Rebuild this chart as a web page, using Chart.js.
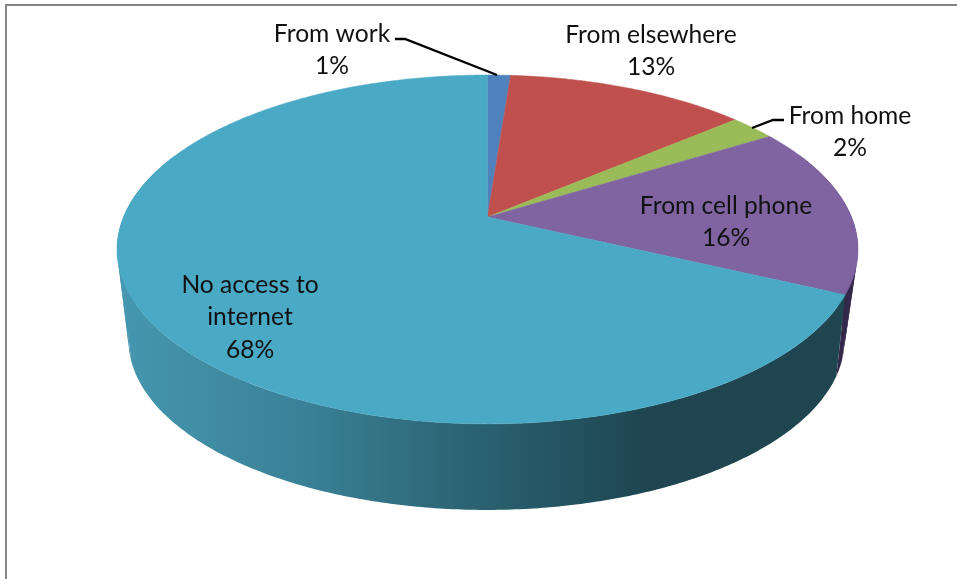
<!DOCTYPE html>
<html>
<head>
<meta charset="utf-8">
<title>Internet access</title>
<script src="https://cdn.jsdelivr.net/npm/chart.js@4/dist/chart.umd.min.js"></script>
<style>
    html, body { margin: 0; padding: 0; background: #ffffff; }
    canvas { display: block; }
</style>
</head>
<body>
<canvas id="accessChart" width="957" height="579"></canvas>
<script>
// Chart data (labels show the rounded percent)
const categories = ['From work', 'From elsewhere', 'From home', 'From cell phone', 'No access to internet'];
const shares = [1.2, 12.6, 2.4, 15.8, 68];
const labelLines = [['From work'], ['From elsewhere'], ['From home'], ['From cell phone'], ['No access to', 'internet']];

// Slice colours, top face and side wall
const topColors = ['#4F81BD', '#C0504D', '#9BBB59', '#8064A2', '#4AA9C4'];
const wallColors = ['#2F4D71', '#73302E', '#5D7035', '#33284A', null];

// Where each label block starts (centre x, middle of first line)
const labelSpots = [[332, 34], [651, 35], [850, 116], [726, 206], [250, 285]];

// Perspective of the disc: top rim and bottom rim
const topRim = { cx: 487.5, y0: 217, a: 364, b: 168.4, k: 0.186 };
const bottomRim = { cx: 486.5, y0: 300, a: 348, b: 160.6, k: 0.235 };

function rimPoint(rim, angle) {
    const u = Math.cos(angle);
    const v = Math.sin(angle);
    const w = 1 - rim.k * v;
    return [rim.cx + rim.a * u / w, rim.y0 + rim.b * v / w];
}

// One piece of side wall between two angles, top rim out and bottom rim back
function wallBand(ctx, a1, a2) {
    const steps = Math.max(2, Math.ceil((a2 - a1) / 0.01));
    ctx.beginPath();
    for (let s = 0; s <= steps; s++) {
        const p = rimPoint(topRim, a1 + (a2 - a1) * s / steps);
        if (s === 0) ctx.moveTo(p[0], p[1]);
        else ctx.lineTo(p[0], p[1]);
    }
    for (let s = steps; s >= 0; s--) {
        const p = rimPoint(bottomRim, a1 + (a2 - a1) * s / steps);
        ctx.lineTo(p[0], p[1]);
    }
    ctx.closePath();
    ctx.fill();
}

// The part of the wall that folds round the silhouette needs small pieces
function foldedWall(ctx, a1, a2) {
    for (let a = a1; a < a2; a += 0.04) {
        wallBand(ctx, a, Math.min(a + 0.045, a2));
    }
}

const disc3d = {
    id: 'disc3d',
    beforeDraw(chart) {
        const ctx = chart.ctx;
        ctx.save();
        ctx.fillStyle = '#868686';
        ctx.fillRect(5, 4, 952, 2);
        ctx.fillRect(5, 4, 2, 575);
        ctx.restore();
    },
    // replaces the flat arcs: the angles still come from the pie controller
    beforeDatasetDraw(chart, args) {
        const ctx = chart.ctx;
        const arcs = args.meta.data;
        const frontStart = 0.35;
        const frontEnd = Math.PI - 0.35;

        const wallGradient = ctx.createLinearGradient(117, 0, 858, 0);
        wallGradient.addColorStop(0, '#4597AF');
        wallGradient.addColorStop(0.25, '#3A8197');
        wallGradient.addColorStop(0.5, '#29606F');
        wallGradient.addColorStop(0.72, '#1E4550');
        wallGradient.addColorStop(1, '#1E4550');

        // side walls first, the top face hides what is behind
        arcs.forEach((arc, i) => {
            ctx.fillStyle = wallColors[i] || wallGradient;
            const from = Math.max(arc.startAngle, -0.4);
            const to = Math.min(arc.endAngle, Math.PI + 0.4);
            if (from < frontStart) foldedWall(ctx, from, Math.min(to, frontStart));
            if (to > frontEnd) foldedWall(ctx, Math.max(from, frontEnd), to);
            const midFrom = Math.max(from, frontStart);
            const midTo = Math.min(to, frontEnd);
            if (midFrom < midTo) wallBand(ctx, midFrom, midTo);
        });

        // top face
        arcs.forEach((arc, i) => {
            ctx.fillStyle = topColors[i];
            ctx.strokeStyle = topColors[i];
            ctx.lineWidth = 0.5;
            ctx.beginPath();
            ctx.moveTo(topRim.cx, topRim.y0);
            const steps = Math.ceil((arc.endAngle - arc.startAngle) / 0.01);
            for (let s = 0; s <= steps; s++) {
                const p = rimPoint(topRim, arc.startAngle + (arc.endAngle - arc.startAngle) * s / steps);
                ctx.lineTo(p[0], p[1]);
            }
            ctx.closePath();
            ctx.fill();
            ctx.stroke();
        });
        return false;
    },
    afterDatasetsDraw(chart) {
        const ctx = chart.ctx;
        ctx.save();

        // leader lines
        ctx.strokeStyle = '#000000';
        ctx.lineWidth = 2.4;
        ctx.beginPath();
        ctx.moveTo(395, 39);
        ctx.lineTo(405, 39);
        ctx.lineTo(497, 75);
        ctx.moveTo(752, 128);
        ctx.lineTo(773, 120);
        ctx.lineTo(784, 120);
        ctx.stroke();

        // data labels
        ctx.font = '24.6px Lato';
        ctx.fillStyle = '#111111';
        ctx.textAlign = 'center';
        ctx.textBaseline = 'middle';
        labelLines.forEach((lines, i) => {
            const x = labelSpots[i][0];
            let y = labelSpots[i][1];
            lines.concat(Math.round(shares[i]) + '%').forEach(line => {
                ctx.fillText(line, x, y);
                y += 32.5;
            });
        });
        ctx.restore();
    }
};

new Chart(document.getElementById('accessChart'), {
    type: 'pie',
    data: {
        labels: categories,
        datasets: [{
            data: shares,
            backgroundColor: topColors,
            borderWidth: 0
        }]
    },
    options: {
        responsive: false,
        animation: false,
        events: [],
        plugins: {
            legend: { display: false },
            tooltip: { enabled: false }
        }
    },
    plugins: [disc3d]
});
</script>
</body>
</html>
